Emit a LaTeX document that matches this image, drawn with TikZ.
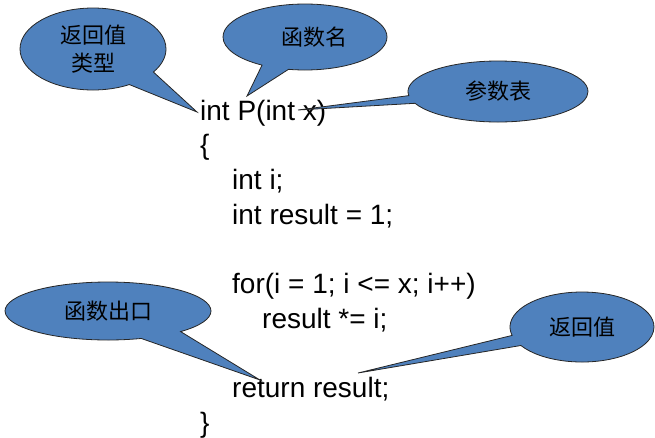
\documentclass[tikz,border=0pt]{standalone}
\usepackage{fontspec}
\setmainfont{Liberation Sans}
\newfontfamily\cjk{Noto Sans CJK SC}
\usetikzlibrary{shapes.callouts}
\definecolor{bubbleblue}{RGB}{79,129,189}

\begin{document}
\begin{tikzpicture}[x=1pt,y=-1pt,
	code line/.style={anchor=base west,inner sep=0pt,font=\fontsize{28}{34}\selectfont},
	bubble/.style={ellipse callout,draw=black!85,line width=0.8pt,fill=bubbleblue,
		inner sep=0pt,align=center,font=\cjk\fontsize{22}{28}\selectfont}]

	\useasboundingbox (0,0) rectangle (655,437);

	% the function
	\node[code line] (head) at (200,120) {int P(int x)};
	\node[code line] (open) at (200,154.7) {\{};
	\node[code line] (li) at (232,189.4) {int i;};
	\node[code line] (lres) at (232,224.1) {int result = 1;};
	\node[code line] (lfor) at (232,293.5) {for(i = 1; i <= x; i++)};
	\node[code line] (lmul) at (262,328.2) {result *= i;};
	\node[code line] (lret) at (232,397.6) {return result;};
	\node[code line] (close) at (200,432.3) {\}};

	% where the bubbles point
	\coordinate (tType) at (197,112);
	\coordinate (tName) at (247,96);
	\coordinate (tArgs) at (298,110);
	\coordinate (tExit) at (260,380);
	\coordinate (tVal) at (358,373);

	\node[bubble,minimum width=146,minimum height=82,callout pointer arc=26,callout absolute pointer={(tType)}] (type) at (93,49) {返回值\\类型};
	\node[bubble,minimum width=164,minimum height=66,callout pointer arc=20,callout absolute pointer={(tName)}] (name) at (305,37) {\hspace*{18pt}函数名};
	\node[bubble,minimum width=180,minimum height=61,callout pointer arc=15,callout absolute pointer={(tArgs)}] (args) at (498,91.5) {参数表};
	\node[bubble,minimum width=206,minimum height=58,callout pointer arc=26,callout absolute pointer={(tExit)}] (exit) at (108,311) {函数出口};
	\node[bubble,minimum width=144,minimum height=70,callout pointer arc=18,callout absolute pointer={(tVal)}] (val) at (582,327) {返回值};
\end{tikzpicture}
\end{document}
